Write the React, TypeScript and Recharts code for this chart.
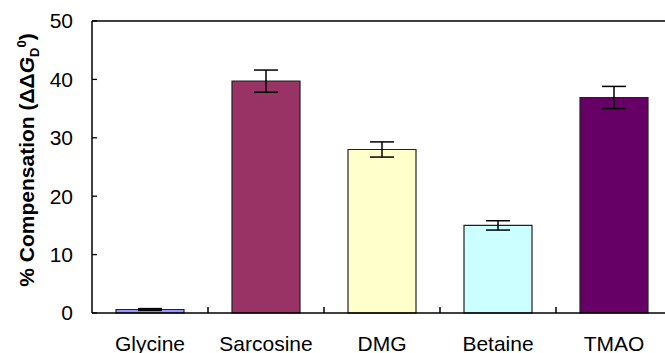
import { BarChart, Bar, Cell, XAxis, YAxis, ErrorBar, ReferenceLine } from "recharts";

const categories = ["Glycine", "Sarcosine", "DMG", "Betaine", "TMAO"];
const compensation = [0.6, 39.7, 28.0, 15.0, 36.9];
const errors = [0.15, 1.9, 1.3, 0.8, 1.9];
const yTicks = [0, 10, 20, 30, 40, 50];

const BAR_COLORS = ["#9999FF", "#993366", "#FFFFCC", "#CCFFFF", "#660066"];
const FONT = '"Liberation Sans", Arial, sans-serif';
const CHART_H = 353;
const XAXIS_H = 40;
const AXIS_Y = CHART_H - XAXIS_H;

const data = categories.map((name, i) => ({
  name,
  value: compensation[i],
  err: errors[i],
}));

// rotated y label with subscript D and superscript 0
const YLabel = () => (
  <text
    x={34}
    y={160}
    transform="rotate(-90, 34, 160)"
    textAnchor="middle"
    fontFamily={FONT}
    fontWeight="bold"
    fontSize={21}
    fill="#000"
  >
    % Compensation (ΔΔ
    <tspan fontStyle="italic">G</tspan>
    <tspan dy={5} fontSize={13}>D</tspan>
    <tspan dy={-13} fontSize={13}>0</tspan>
    <tspan dy={8}>)</tspan>
  </text>
);

// category label plus a small inward tick on the boundary to its right
const CatTick = (props: any) => {
  const { x, payload, width } = props;
  const half = payload.offset || width / categories.length / 2;
  const edge = x + half;
  return (
    <g>
      <text
        x={x}
        y={AXIS_Y + 23}
        dy="0.71em"
        textAnchor="middle"
        fill="#000"
        fontSize={21}
        fontFamily={FONT}
      >
        {payload.value}
      </text>
      <path d={`M${edge},${AXIS_Y}V${AXIS_Y - 6}`} stroke="#000" strokeWidth={1.5} fill="none" />
    </g>
  );
};

export default function App() {
  return (
    <div
      style={{
        position: "absolute",
        left: 0,
        top: 0,
        width: 665,
        height: CHART_H,
        overflow: "hidden",
        background: "#fff",
        fontFamily: FONT,
      }}
    >
      <BarChart
        width={690}
        height={CHART_H}
        data={data}
        margin={{ top: 21, right: 18, bottom: 0, left: 0 }}
      >
        <XAxis
          dataKey="name"
          height={XAXIS_H}
          tickLine={false}
          axisLine={{ stroke: "#000", strokeWidth: 1.5 }}
          tick={<CatTick />}
          interval={0}
        />
        <YAxis
          width={92}
          domain={[0, 50]}
          ticks={yTicks}
          tickSize={-5}
          tickMargin={24}
          axisLine={{ stroke: "#000", strokeWidth: 1.5 }}
          tickLine={{ stroke: "#000", strokeWidth: 1.3 }}
          tick={{ fill: "#000", fontSize: 21, fontFamily: FONT }}
          label={<YLabel />}
        />
        <ReferenceLine y={50} stroke="#000" strokeWidth={1.5} />
        <Bar
          dataKey="value"
          barSize={68}
          stroke="#222"
          strokeWidth={1.2}
          isAnimationActive={false}
        >
          {data.map((_, i) => (
            <Cell key={`c-${i}`} fill={BAR_COLORS[i]} />
          ))}
          <ErrorBar dataKey="err" width={12} stroke="#000" strokeWidth={1.5} />
        </Bar>
      </BarChart>
    </div>
  );
}
